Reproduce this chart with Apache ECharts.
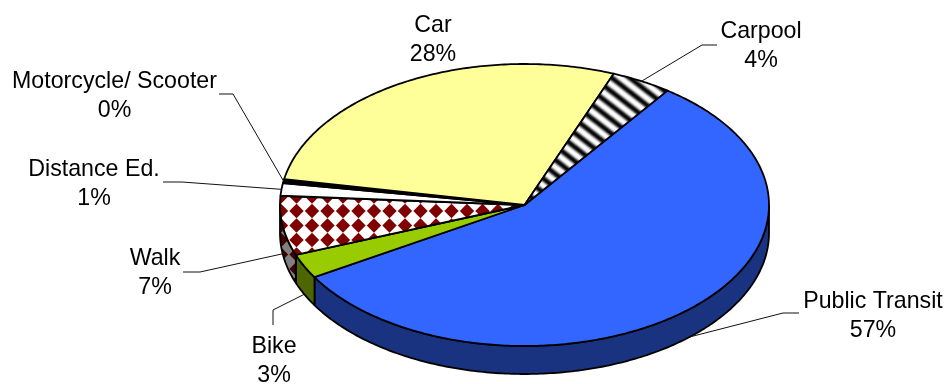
<!DOCTYPE html>
<html>
<head>
<meta charset="utf-8">
<title>Commute mode share</title>
<style>html,body{margin:0;padding:0;background:#fff}#chart{width:948px;height:384px}</style>
<script src="https://cdn.jsdelivr.net/npm/echarts@6/dist/echarts.min.js"></script>
</head>
<body>
<div id="chart"></div>
<script>
// Share of commuters by travel mode, in percent.
const modes = ['Public Transit', 'Bike', 'Walk', 'Distance Ed.', 'Motorcycle/ Scooter', 'Car', 'Carpool'];
const shares = [56.5, 2.8, 6.8, 1.45, 0.45, 28, 4];

// Tilted-disc geometry.
const disc = { cx: 524.5, cy: 205, rx: 244.5, ry: 141, depth: 28, startDeg: 35.8 };

// Label centre and leader elbow for each mode, in the same order as modes.
const labelCentres = [[873, 316], [274, 361], [155, 273], [94, 184], [114.5, 96], [433, 40], [761, 46]];
const leaderElbows = [[[783, 313], [799, 313]], [[273, 310], [273, 325]], [[200, 272], [183, 272]],
  [[182, 182], [163, 182]], [[233, 94], [219, 94]], null, [[702, 45], [717, 45]]];

function tile(w, h, paint) {
  const c = document.createElement('canvas');
  c.width = w; c.height = h;
  paint(c.getContext('2d'));
  return c;
}

// Square grid of diamonds; the tile holds two periods each way to keep the pitch fractional.
function diamondTile(bg, ink) {
  return tile(31, 29, ctx => {
    ctx.fillStyle = bg; ctx.fillRect(0, 0, 31, 29);
    ctx.fillStyle = ink;
    ctx.filter = 'blur(0.7px)';
    const r = 7.2;
    for (let row = -1; row <= 3; row++) {
      for (let col = -1; col <= 3; col++) {
        const x = col * 15.5;
        const y = row * 14.5;
        ctx.beginPath();
        ctx.moveTo(x, y - r); ctx.lineTo(x + r, y); ctx.lineTo(x, y + r); ctx.lineTo(x - r, y);
        ctx.closePath(); ctx.fill();
      }
    }
  });
}

// Soft-edged diagonal stripes falling to the right.
const stripeTile = tile(18, 14, ctx => {
  ctx.fillStyle = '#fff'; ctx.fillRect(0, 0, 18, 14);
  ctx.strokeStyle = '#000'; ctx.lineWidth = 5; ctx.filter = 'blur(0.9px)';
  for (let k = -4; k <= 4; k++) {
    ctx.beginPath(); ctx.moveTo(-18, -14 + 14 * k); ctx.lineTo(36, 28 + 14 * k); ctx.stroke();
  }
});

const pattern = (image, x, y) => ({ type: 'pattern', image, repeat: 'repeat', x, y });

const topFills = [
  '#3366ff', '#99cc00',
  pattern(diamondTile('#ffffff', '#800000'), 2, 8),
  '#ffffff', '#000000', '#ffff99',
  pattern(stripeTile, 0, 8)
];
const sideFills = [
  '#1a3380', '#4d6600',
  pattern(diamondTile('#808080', '#400000'), 2, 8),
  '#808080', '#000000', '#808040', '#808080'
];

function rim(deg, drop) {
  const t = deg * Math.PI / 180;
  return [disc.cx + disc.rx * Math.sin(t), disc.cy - disc.ry * Math.cos(t) + drop];
}

function arc(a, b, drop) {
  const pts = [];
  const n = Math.max(2, Math.ceil((b - a) / 0.75));
  for (let i = 0; i <= n; i++) pts.push(rim(a + (b - a) * i / n, drop));
  return pts;
}

const total = shares.reduce((s, v) => s + v, 0);
const startOf = i => disc.startDeg + shares.slice(0, i).reduce((s, v) => s + v, 0) / total * 360;

function renderSlice(params, api) {
  const i = params.dataIndex;
  const a = startOf(i);
  const b = a + api.value(0) / total * 360;
  const children = [];
  const outline = { stroke: '#000', lineWidth: 1.8, lineJoin: 'round' };

  // The wall shows only along the front half of the disc.
  const wa = Math.max(a, 90), wb = Math.min(b, 270);
  if (wb > wa) {
    children.push({
      type: 'polygon', z2: 1,
      shape: { points: arc(wa, wb, 0).concat(arc(wa, wb, disc.depth).reverse()) },
      style: { fill: sideFills[i], ...outline }
    });
  }
  children.push({
    type: 'polygon', z2: 2,
    shape: { points: [[disc.cx, disc.cy]].concat(arc(a, b, 0)) },
    style: { fill: topFills[i], ...outline }
  });

  // Leader runs from the slice's mid-angle on the rim out to its label.
  if (leaderElbows[i]) {
    const mid = (a + b) / 2;
    const onFront = mid > 90 && mid < 270;
    const pts = [rim(mid, onFront ? disc.depth : 0)].concat(leaderElbows[i]);
    children.push({
      type: 'polyline', z2: 3,
      shape: { points: pts },
      style: { fill: 'none', stroke: '#111', lineWidth: 1 }
    });
  }
  children.push({
    type: 'text', z2: 4,
    style: {
      text: modes[i] + '\n' + Math.round(api.value(0)) + '%',
      x: labelCentres[i][0], y: labelCentres[i][1],
      textAlign: 'center', textVerticalAlign: 'middle',
      fontFamily: '"Liberation Sans", Arial, sans-serif', fontSize: 23.2, lineHeight: 29.5,
      fill: '#000'
    }
  });
  return { type: 'group', children };
}

const chart = echarts.init(document.getElementById('chart'), null, { renderer: 'canvas' });
chart.setOption({
  animation: false,
  backgroundColor: '#ffffff',
  series: [{
    type: 'custom',
    coordinateSystem: 'none',
    silent: true,
    clip: false,
    renderItem: renderSlice,
    data: shares.map(v => [v])
  }]
});
</script>
</body>
</html>
